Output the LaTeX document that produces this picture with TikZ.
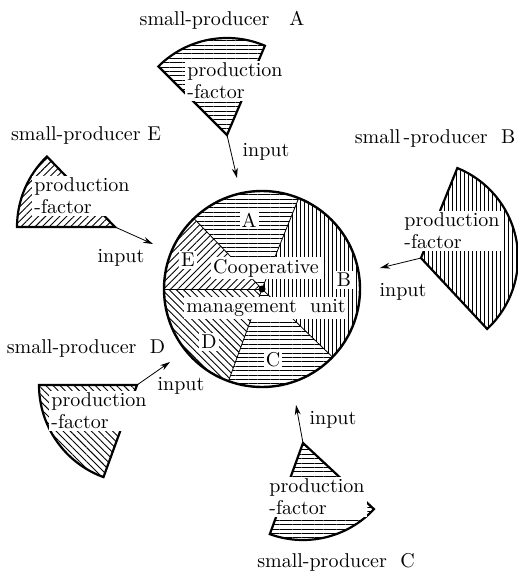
\documentclass[tikz,border=0pt]{standalone}
\usepackage{tikz}
\usetikzlibrary{patterns,patterns.meta,arrows.meta,calc}
\tikzstyle{hz} = [pattern={Lines[angle=0,distance=2.2pt,line width=.45pt]}]
\tikzstyle{vt} = [pattern={Lines[angle=90,distance=2pt,line width=.45pt]}]
\tikzstyle{ne} = [pattern={Lines[angle=45,distance=2.5pt,line width=.45pt]}]
\tikzstyle{nw} = [pattern={Lines[angle=-45,distance=2.5pt,line width=.45pt]}]
\tikzstyle{lbl} = [fill=white, inner sep=1pt]
\tikzstyle{pf} = [fill=white, inner sep=1pt, align=left, anchor=west]
\tikzstyle{feed} = [thin,-{Stealth[length=5pt,width=3pt]}]
% sector: apex, start angle, end angle, radius, style
\newcommand{\prodfan}[5]{\filldraw[#5] (#1) -- ++(#2:#4) arc[start angle=#2, end angle=#3, radius=#4] -- cycle;}

\begin{document}
\begin{tikzpicture}[x=0.5pt,y=0.5pt]
\useasboundingbox (0,0) rectangle (518,-573);
\coordinate (O) at (262,-289);
% management unit
\fill [hz] (O) -- ++(68:98) arc[start angle=68, end angle=134, radius=98] -- cycle;
\fill [ne] (O) -- ++(134:98) arc[start angle=134, end angle=180, radius=98] -- cycle;
\fill [nw] (O) -- ++(180:98) arc[start angle=180, end angle=250, radius=98] -- cycle;
\fill [hz] (O) -- ++(250:98) arc[start angle=250, end angle=316, radius=98] -- cycle;
\fill [vt] (O) -- ++(-44:98) arc[start angle=-44, end angle=68, radius=98] -- cycle;
\foreach \a in {68,134,180,250,316}
  \draw [thin] (O) -- ++(\a:98);
\draw [line width=1.2pt] (O) circle (98);
\fill (O) circle (3.5);
\node (coop) [lbl] at (266,-268) {Cooperative};
\node (mgmt) [lbl] at (266,-308) {management\ \ unit};
\node (sA) [lbl] at (249,-220) {A};
\node (sB) [lbl] at (344,-280) {B};
\node (sC) [lbl] at (273,-360) {C};
\node (sD) [lbl] at (209,-342) {D};
\node (sE) [lbl] at (188,-260) {E};
%
% producers
\coordinate (pA) at (227,-135);
\coordinate (pB) at (421,-258);
\coordinate (pC) at (303,-443);
\coordinate (pD) at (137,-385);
\coordinate (pE) at (115,-227);
\prodfan{pA}{67}{135}{97}{hz, line width=1.1pt}
\prodfan{pB}{-47}{68}{97}{vt, line width=1.1pt}
\prodfan{pC}{250}{317}{97}{hz, line width=1.1pt}
\prodfan{pD}{180}{250}{98}{nw, line width=1.1pt}
\prodfan{pE}{134}{180}{98}{ne, line width=1.1pt}
\node (fA) [pf] at (185,-81) {production\\[-1pt]-factor};
\node (fB) [pf] at (402,-231) {production\\[-1pt]-factor};
\node (fC) [pf] at (267,-497) {production\\[-1pt]-factor};
\node (fD) [pf] at (49,-411) {production\\[-1pt]-factor};
\node (fE) [pf] at (32,-196) {production\\[-1pt]-factor};
\node (tA) at (222,-20) {small-producer\ \ \ A};
\node (tB) at (435,-138) {small\,-producer\ \ B};
\node (tC) at (336,-562) {small-producer\ \ C};
\node (tD) at (86,-348) {small-producer\ \ D};
\node (tE) at (86,-135) {small-producer\ E};
%
% inputs
\coordinate (iA) at (237,-178);
\coordinate (iB) at (380,-268);
\coordinate (iC) at (296,-405);
\coordinate (iD) at (170,-362);
\coordinate (iE) at (153,-244);
\draw [feed] (pA) -- (iA);
\draw [feed] (pB) -- (iB);
\draw [feed] (pC) -- (iC);
\draw [feed] (pD) -- (iD);
\draw [feed] (pE) -- (iE);
\node (nA) at (266,-152) {input};
\node (nB) at (403,-292) {input};
\node (nC) at (333,-420) {input};
\node (nD) at (181,-386) {input};
\node (nE) at (121,-258) {input};
\end{tikzpicture}
\end{document}
